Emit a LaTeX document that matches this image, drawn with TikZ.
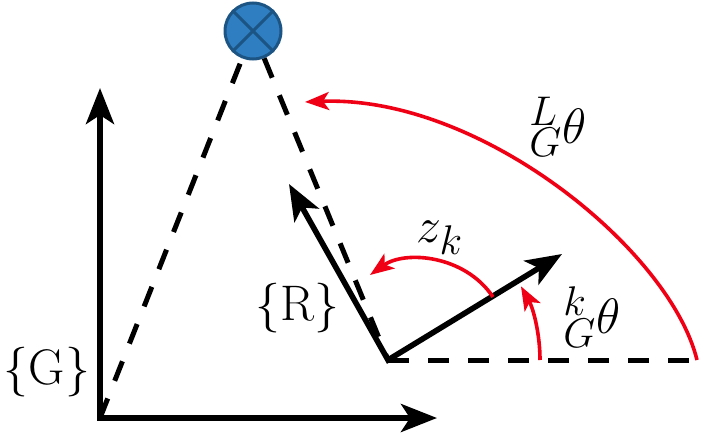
\documentclass[tikz,border=0pt]{standalone}
\usetikzlibrary{arrows.meta}
\definecolor{markblue}{RGB}{46,126,193}
\definecolor{markedge}{RGB}{28,84,132}
\definecolor{anglered}{RGB}{240,0,20}
\begin{document}
\begin{tikzpicture}[x=0.5pt,y=0.5pt,
    axis/.style={line width=2.8pt,{Stealth[length=18pt,width=14pt,inset=4.5pt]}-{Stealth[length=18pt,width=14pt,inset=4.5pt]}},
    guide/.style={line width=2.5pt,dash pattern=on 10.5pt off 9.5pt},
    angmark/.style={anglered,line width=1.8pt,-{Stealth[length=12pt,width=9pt,inset=3pt]}}]
  \useasboundingbox (0,0) rectangle (706,440);
  \coordinate (G0) at (100,22);
  \coordinate (R0) at (388,80);
  \coordinate (Gy) at (100,352);
  \coordinate (Gx) at (437,22);
  \coordinate (Ry) at (289,256);
  \coordinate (Rx) at (562,186);
  \coordinate (Rend) at (706,80);
  % landmark
  \node[circle,draw=markedge,fill=markblue,line width=1.5pt,minimum size=28pt,inner sep=0pt] (L) at (253,409) {};
  \draw[markedge,line width=1.5pt] (L.45) -- (L.225) (L.135) -- (L.315);
  \draw[guide] (G0) -- (L);
  \draw[guide] (L) -- (R0);
  \draw[guide] (R0) -- (Rend);
  % frames
  \draw[axis] (Gy) -- (G0) -- (Gx);
  \draw[axis] (Ry) -- (R0) -- (Rx);
  % angles
  \coordinate (LA) at (697,80);
  \coordinate (LB) at (305,338);
  \draw[angmark] (LA) .. controls (670,190) and (480,345) .. (LB);
  \coordinate (kA) at (540,80);
  \draw[angmark] (kA) arc[start angle=0,end angle=29,radius=76pt];
  \coordinate (zA) at (493,143);
  \coordinate (zB) at (370,165);
  \draw[angmark] (zA) .. controls (465,185) and (405,190) .. (zB);
  % labels
  \node (Glab) at (47,68) {\fontsize{25}{30}\selectfont $\{$G$\}$};
  \node (Rlab) at (297,132) {\fontsize{25}{30}\selectfont $\{$R$\}$};
  \node (zlab) at (440,202) {\fontsize{29}{34}\selectfont $z_k$};
  \node (Llab) at (558,313) {\fontsize{30}{36}\selectfont ${}^{L}_{G}\theta$};
  \node (klab) at (592,123) {\fontsize{30}{36}\selectfont ${}^{k}_{G}\theta$};
\end{tikzpicture}
\end{document}
